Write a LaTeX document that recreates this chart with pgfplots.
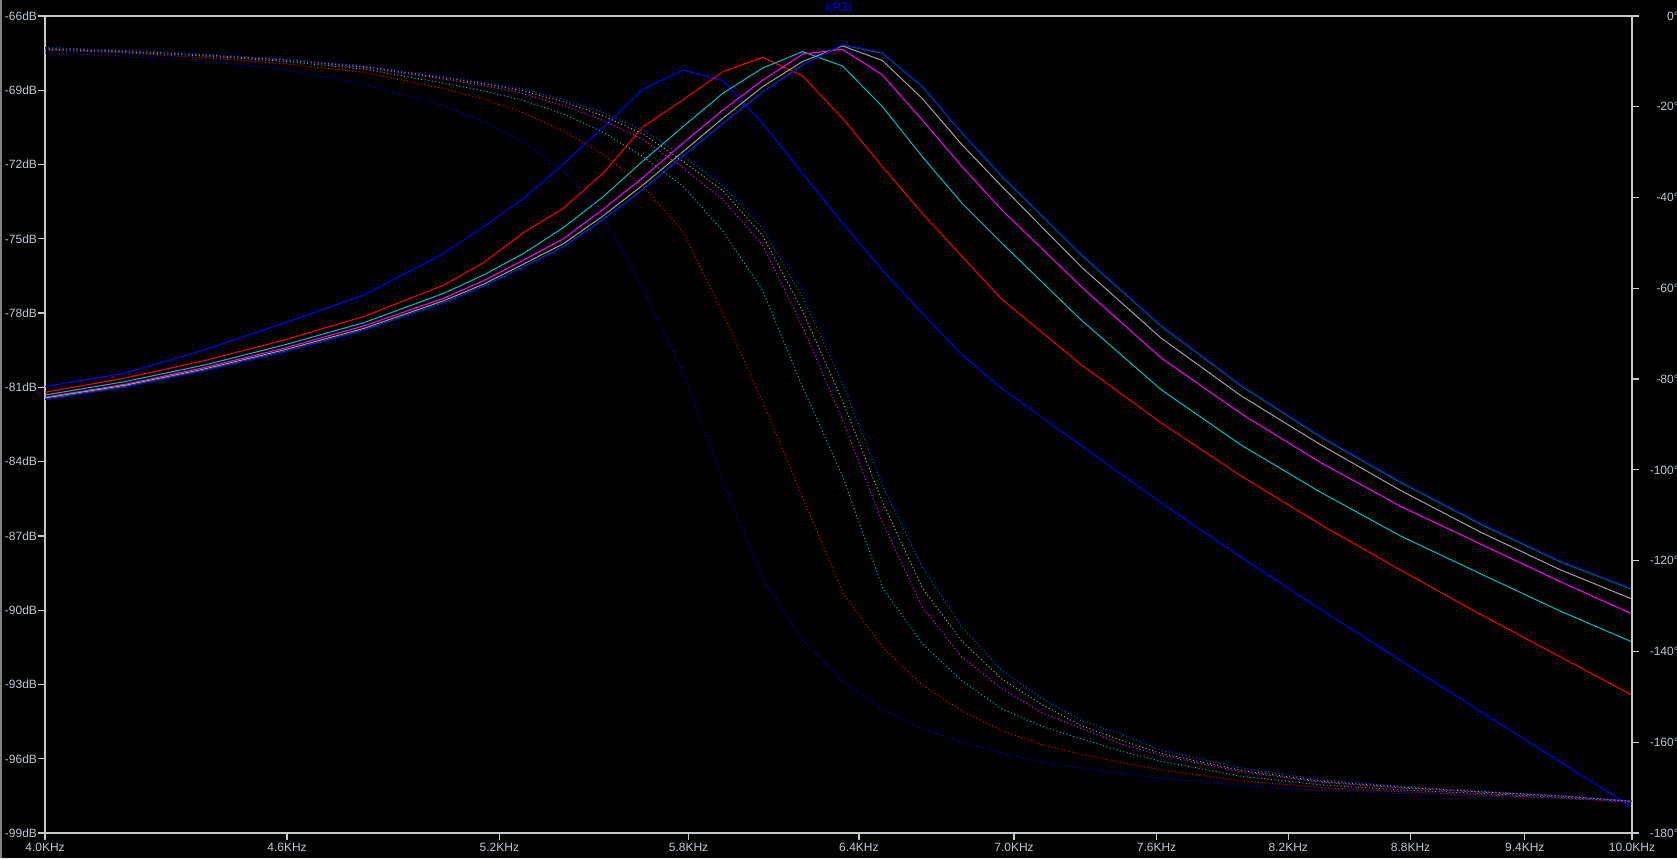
\documentclass[border=0pt]{standalone}
\usepackage{fontspec}
\setmainfont{Liberation Sans}
\usepackage{pgfplots}
\pgfplotsset{compat=1.18}
\usepackage{pgfplotstable}
\definecolor{ltbA}{RGB}{0,0,255}
\definecolor{ltred}{RGB}{255,0,0}
\definecolor{ltcyan}{RGB}{0,190,190}
\definecolor{ltmag}{RGB}{255,0,255}
\definecolor{ltgray}{RGB}{160,160,160}
\definecolor{ltgreen}{RGB}{0,128,0}
\definecolor{ltbB}{RGB}{0,0,230}
\definecolor{axgray}{RGB}{200,200,200}
\definecolor{lblgray}{RGB}{192,200,210}

\pgfplotstableread{
f b1 r c m gy gn b2
4.0000 -80.97 -81.20 -81.31 -81.40 -81.43 -81.47 -81.50
4.1884 -80.43 -80.63 -80.77 -80.88 -80.92 -80.97 -81.00
4.3855 -79.49 -79.92 -80.10 -80.20 -80.26 -80.30 -80.33
4.5919 -78.41 -79.09 -79.29 -79.42 -79.49 -79.56 -79.58
4.8081 -77.27 -78.14 -78.39 -78.52 -78.62 -78.68 -78.70
5.0357 -75.59 -76.87 -77.20 -77.40 -77.50 -77.58 -77.60
5.1530 -74.51 -75.96 -76.46 -76.69 -76.83 -76.91 -76.93
5.2730 -73.37 -74.75 -75.59 -75.86 -76.02 -76.13 -76.15
5.3958 -71.98 -73.77 -74.55 -75.00 -75.20 -75.32 -75.34
5.5215 -70.50 -72.35 -73.30 -73.80 -74.07 -74.22 -74.24
5.6501 -68.96 -70.47 -71.85 -72.52 -72.82 -73.00 -73.02
5.7817 -68.18 -69.39 -70.47 -71.14 -71.48 -71.66 -71.68
5.9164 -68.61 -68.25 -69.12 -69.80 -70.13 -70.34 -70.36
6.0542 -70.34 -67.67 -68.10 -68.59 -68.85 -69.06 -69.08
6.1953 -72.36 -68.42 -67.44 -67.54 -67.84 -67.98 -68.00
6.3396 -74.37 -70.13 -68.02 -67.35 -67.21 -67.17 -67.15
6.4872 -76.26 -72.09 -69.66 -68.38 -67.80 -67.51 -67.48
6.6384 -78.01 -73.97 -71.68 -70.20 -69.33 -68.85 -68.82
6.7930 -79.69 -75.72 -73.57 -72.09 -71.21 -70.74 -70.71
6.9512 -81.05 -77.45 -75.18 -73.84 -72.89 -72.49 -72.45
7.2788 -83.37 -80.10 -78.30 -76.95 -76.15 -75.67 -75.63
7.6218 -85.67 -82.44 -81.10 -79.82 -79.02 -78.54 -78.50
7.9810 -87.86 -84.58 -83.33 -82.06 -81.34 -80.94 -80.90
8.3572 -89.98 -86.55 -85.25 -84.05 -83.33 -83.02 -82.98
8.7510 -92.04 -88.39 -87.01 -85.81 -85.17 -84.85 -84.81
9.1635 -94.09 -90.17 -88.53 -87.33 -86.85 -86.53 -86.49
9.5953 -96.13 -91.89 -90.04 -88.85 -88.37 -88.05 -88.01
10.000 -97.95 -93.43 -91.28 -90.15 -89.55 -89.16 -89.12
}\magtable

\pgfplotstableread{
f b1 r c m gy gn b2
4.0000 -8.1 -7.5 -7.3 -7.1 -7.0 -7.0 -7.0
4.1884 -8.8 -8.1 -7.9 -7.7 -7.6 -7.6 -7.6
4.3855 -9.9 -9.2 -8.8 -8.6 -8.5 -8.4 -8.4
4.5919 -11.8 -10.5 -10.0 -9.7 -9.6 -9.5 -9.5
4.8081 -15.0 -12.4 -11.7 -11.3 -11.1 -11.0 -10.9
5.0357 -19.8 -16.0 -14.8 -13.9 -13.6 -13.4 -13.3
5.1530 -23.2 -18.3 -16.5 -15.3 -14.9 -14.6 -14.5
5.2730 -27.8 -21.3 -18.6 -17.1 -16.5 -16.1 -16.0
5.3958 -34.1 -25.3 -21.6 -19.7 -18.9 -18.4 -18.3
5.5215 -44.0 -30.5 -25.6 -23.0 -22.0 -21.3 -21.1
5.6501 -60.0 -37.5 -31.0 -27.2 -26.0 -25.2 -25.0
5.7817 -78.6 -47.5 -37.5 -33.5 -32.0 -30.8 -30.5
5.9164 -102.5 -65.5 -47.4 -40.5 -38.5 -37.5 -37.0
6.0542 -124.0 -85.0 -60.5 -50.5 -48.4 -46.9 -46.0
6.1953 -137.5 -106.0 -81.7 -68.5 -65.0 -61.9 -60.5
6.3396 -146.5 -127.0 -101.4 -89.0 -84.8 -81.0 -80.0
6.4872 -152.8 -139.0 -125.9 -111.5 -107.0 -103.5 -102.5
6.6384 -157.0 -147.4 -138.3 -130.2 -126.0 -121.5 -121.0
6.7930 -160.0 -153.1 -146.5 -141.3 -137.8 -134.8 -134.3
6.9512 -162.4 -157.5 -152.7 -148.2 -146.1 -144.3 -144.0
7.1131 -164.4 -160.5 -156.5 -153.5 -151.7 -150.4 -150.2
7.2788 -165.7 -162.7 -159.3 -157.0 -156.4 -155.3 -155.1
7.4484 -166.9 -164.5 -162.0 -160.4 -159.6 -158.3 -158.2
7.6218 -167.9 -166.1 -164.2 -162.9 -162.5 -161.8 -161.7
7.9810 -169.5 -168.5 -167.5 -166.5 -166.2 -165.7 -165.6
8.3572 -170.6 -170.0 -169.4 -168.8 -168.6 -168.3 -168.2
8.7510 -171.3 -170.9 -170.5 -170.1 -169.9 -169.7 -169.7
9.1635 -171.9 -171.6 -171.3 -171.0 -170.9 -170.8 -170.8
9.5953 -172.4 -172.3 -172.1 -171.9 -171.8 -171.8 -171.8
10.000 -173.0 -173.3 -173.1 -173.0 -173.0 -173.0 -173.0
}\phasetable

\begin{document}
\begin{tikzpicture}[x=1bp,y=1bp]
\fill[black] (0,0) rectangle (1677,858);
\draw[draw=gray, line width=2bp] (1,0) -- (1,858);
\begin{axis}[
  at={(45bp,25bp)}, anchor=south west,
  width=1587bp, height=817bp, scale only axis,
  xmode=log, xmin=4, xmax=10,
  ymin=-99, ymax=-66,
  axis line style={draw=axgray, line width=1.2bp},
  tick align=outside, major tick length=7bp,
  tick style={draw=axgray, line width=1.2bp},
  minor tick num=0,
  tick label style={font=\fontsize{12bp}{14bp}\selectfont, text=lblgray, inner sep=0pt},
  xtick={4,4.6,5.2,5.8,6.4,7.0,7.6,8.2,8.8,9.4,10},
  xticklabels={4.0KHz,4.6KHz,5.2KHz,5.8KHz,6.4KHz,7.0KHz,7.6KHz,8.2KHz,8.8KHz,9.4KHz,10.0KHz},
  xtick pos=bottom, ytick pos=left,
  ytick={-99,-96,-93,-90,-87,-84,-81,-78,-75,-72,-69,-66},
  yticklabels={-99dB,-96dB,-93dB,-90dB,-87dB,-84dB,-81dB,-78dB,-75dB,-72dB,-69dB,-66dB},
  xticklabel style={anchor=north, yshift=-3bp},
  yticklabel style={anchor=east, xshift=-1bp},
  clip mode=individual,
]
\addplot[line width=1bp, color=ltbA]    table[x=f,y=b1]{\magtable};
\addplot[line width=1bp, color=ltred]   table[x=f,y=r]{\magtable};
\addplot[line width=1bp, color=ltcyan]  table[x=f,y=c]{\magtable};
\addplot[line width=1bp, color=ltmag]   table[x=f,y=m]{\magtable};
\addplot[line width=1bp, color=ltgray]  table[x=f,y=gy]{\magtable};
\addplot[line width=1bp, color=ltgreen] table[x=f,y=gn]{\magtable};
\addplot[line width=1bp, color=ltbB]    table[x=f,y=b2]{\magtable};
\node[anchor=base, inner sep=0pt, yshift=4.5bp, text=ltbA, font=\fontsize{12bp}{14bp}\selectfont] at (rel axis cs:0.5,1) {I(R3)};
\end{axis}
\begin{axis}[
  at={(45bp,25bp)}, anchor=south west,
  width=1587bp, height=817bp, scale only axis,
  xmode=log, xmin=4, xmax=10,
  ymin=-180, ymax=0,
  hide x axis,
  axis y line*=right,
  axis line style={draw=axgray, line width=1.2bp},
  tick align=outside, major tick length=7bp,
  tick style={draw=axgray, line width=1.2bp},
  minor tick num=0,
  tick label style={font=\fontsize{12bp}{14bp}\selectfont, text=lblgray, inner sep=0pt},
  ytick={-180,-160,-140,-120,-100,-80,-60,-40,-20,0},
  yticklabels={-180°,-160°,-140°,-120°,-100°,-80°,-60°,-40°,-20°,0°},
  yticklabel style={anchor=east, xshift=40bp},
]
\addplot[line width=1bp, dash pattern=on 1bp off 2.5bp, color=ltbA]    table[x=f,y=b1]{\phasetable};
\addplot[line width=1bp, dash pattern=on 1bp off 2.5bp, color=ltred]   table[x=f,y=r]{\phasetable};
\addplot[line width=1bp, dash pattern=on 1bp off 2.5bp, color=ltcyan]  table[x=f,y=c]{\phasetable};
\addplot[line width=1bp, dash pattern=on 1bp off 2.5bp, color=ltmag]   table[x=f,y=m]{\phasetable};
\addplot[line width=1bp, dash pattern=on 1bp off 2.5bp, color=ltgray]  table[x=f,y=gy]{\phasetable};
\addplot[line width=1bp, dash pattern=on 1bp off 2.5bp, color=ltgreen] table[x=f,y=gn]{\phasetable};
\addplot[line width=1bp, dash pattern=on 1bp off 2.5bp, color=ltbB]    table[x=f,y=b2]{\phasetable};
\end{axis}
\pgfresetboundingbox
\useasboundingbox (0,0) rectangle (1677,858);
\end{tikzpicture}
\end{document}
